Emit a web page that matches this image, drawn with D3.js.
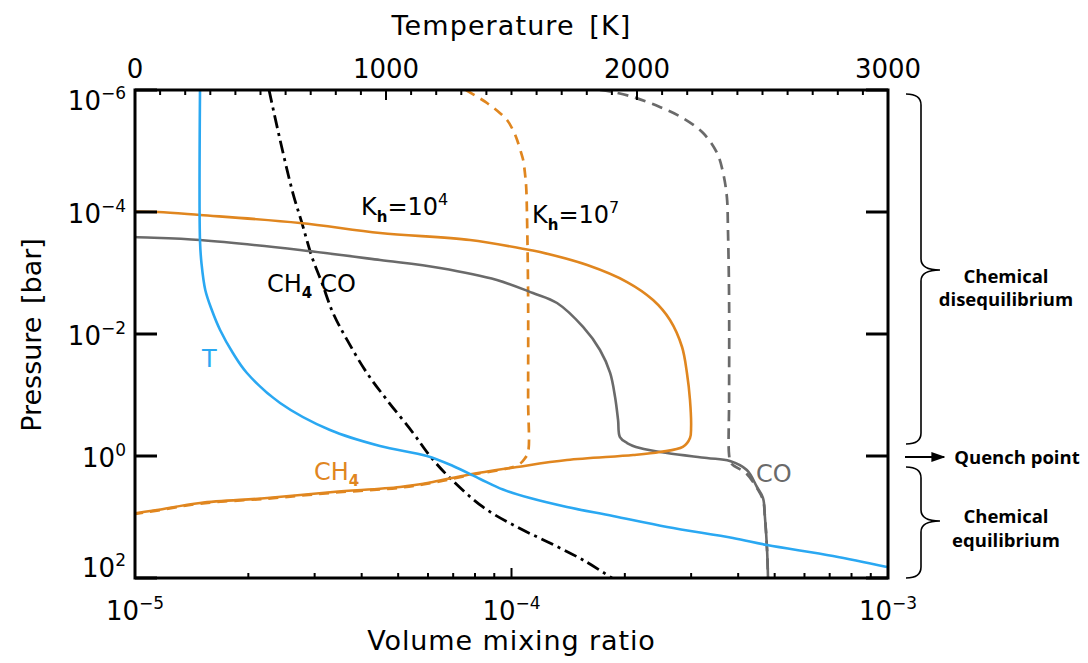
<!DOCTYPE html>
<html>
<head>
<meta charset="utf-8">
<script src="https://cdn.jsdelivr.net/npm/d3@7"></script>
<style>
  html, body { margin: 0; padding: 0; background: #fff; }
  svg { display: block; }
  .num { font-family: "DejaVu Sans", sans-serif; fill: #000; }
  .note { font-family: "Open Sans", "Liberation Sans", sans-serif; font-weight: 700; fill: #000; }
</style>
</head>
<body>
<div id="chart"></div>
<script>
// ---- Temperature profile (top axis, K) ----
const tempPressure = [1e-6, 3.0e-4, 7.0e-4, 1.9e-3, 4.05e-3, 8.6e-3, 2.05e-2, 4.36e-2, 0.135, 0.375, 0.686, 1.0, 1.459, 2.38, 3.55, 4.89, 6.85, 9.64, 14.6, 22.1, 28.8, 43.6, 66.1];
const tempKelvin   = [259, 259, 265, 280, 306, 339, 390, 446, 578, 777, 976, 1163, 1267, 1375, 1466, 1574, 1721, 1904, 2120, 2382, 2518, 2781, 2996];

// ---- CH4 = CO equal-abundance boundary (top axis, K) ----
const boundaryPressure = [1e-6, 6.6e-6, 4.89e-5, 1.51e-4, 5.47e-4, 1.46e-3, 4.53e-3, 1.25e-2, 4.36e-2, 0.121, 0.420, 1.0, 2.30, 6.85, 14.6, 26.7, 50.7, 100];
const boundaryKelvin   = [534, 578, 629, 665, 705, 745, 789, 845, 924, 1004, 1108, 1175, 1255, 1386, 1522, 1653, 1785, 1900];

// ---- CH4, Kh = 1e4 (solid) ----
const ch4LowKzzPressure = [0.98e-4, 1e-4, 1.119e-4, 1.514e-4, 2.208e-4, 2.877e-4, 4.198e-4, 4.529e-4, 7.396e-4, 1.406e-3, 2.773e-3, 5.888e-3, 1.633e-2, 4.355e-2, 0.1208, 0.3350, 0.5070, 0.7112, 0.8590, 0.9638, 1.164, 1.514, 2.046, 2.667, 3.221, 3.890, 4.887, 5.888, 7.674, 8.590, 9.0];
const ch4LowKzzVmr      = [9.5e-6, 1.151e-5, 1.489e-5, 2.742e-5, 4.477e-5, 7.762e-5, 1.119e-4, 1.191e-4, 1.589e-4, 2.028e-4, 2.377e-4, 2.636e-4, 2.838e-4, 2.924e-4, 2.979e-4, 2.999e-4, 2.979e-4, 2.851e-4, 2.477e-4, 2.104e-4, 1.403e-4, 1.035e-4, 7.621e-5, 6.180e-5, 5.058e-5, 3.357e-5, 2.244e-5, 1.489e-5, 1.143e-5, 1.012e-5, 9.5e-6];

// ---- CH4, Kh = 1e7 (dashed) ----
const ch4HighKzzPressure = [1e-6, 1.633e-6, 2.382e-6, 3.105e-6, 4.529e-6, 6.607e-6, 1.038e-5, 1.406e-5, 2.472e-5, 3.890e-5, 1.352e-4, 2.773e-3, 0.1208, 0.859, 1.079, 1.406, 2.10, 2.74, 3.31, 4.0, 5.0, 6.03, 7.86, 8.8, 9.2];
const ch4HighKzzVmr      = [7.568e-5, 8.610e-5, 9.31e-5, 9.73e-5, 1.009e-4, 1.035e-4, 1.059e-4, 1.074e-4, 1.087e-4, 1.094e-4, 1.1e-4, 1.107e-4, 1.107e-4, 1.107e-4, 1.087e-4, 1.040e-4, 7.621e-5, 6.18e-5, 5.058e-5, 3.357e-5, 2.244e-5, 1.489e-5, 1.143e-5, 1.012e-5, 9.5e-6];

// ---- CO, Kh = 1e4 (solid) ----
const coLowKzzPressure = [2.5e-4, 2.570e-4, 2.877e-4, 4.198e-4, 6.124e-4, 8.279e-4, 1.303e-3, 2.128e-3, 3.105e-3, 7.674e-3, 1.828e-2, 4.355e-2, 0.1079, 0.2570, 0.4887, 0.6124, 0.7396, 0.8933, 1.079, 1.208, 1.698, 3.221, 4.887, 10.0, 34.75, 100];
const coLowKzzVmr      = [9.4e-6, 1.0e-5, 1.489e-5, 2.742e-5, 4.477e-5, 6.457e-5, 9.146e-5, 1.140e-4, 1.321e-4, 1.549e-4, 1.718e-4, 1.828e-4, 1.884e-4, 1.919e-4, 1.941e-4, 2.028e-4, 2.193e-4, 2.588e-4, 3.304e-4, 3.802e-4, 4.217e-4, 4.487e-4, 4.656e-4, 4.711e-4, 4.773e-4, 4.801e-4];

// ---- CO, Kh = 1e7 (dashed) ----
const coHighKzzPressure = [1e-6, 1.079e-6, 1.303e-6, 1.901e-6, 2.877e-6, 5.070e-6, 1.079e-5, 2.296e-5, 5.678e-5, 1.972e-4, 2.773e-3, 0.1208, 0.9638, 1.303, 1.972, 3.350, 5.26, 10, 34.75, 100];
const coHighKzzVmr      = [1.718e-4, 1.862e-4, 2.104e-4, 2.477e-4, 2.851e-4, 3.228e-4, 3.516e-4, 3.648e-4, 3.733e-4, 3.758e-4, 3.784e-4, 3.784e-4, 3.784e-4, 3.828e-4, 4.217e-4, 4.487e-4, 4.656e-4, 4.711e-4, 4.773e-4, 4.801e-4];

// ---- Axis ticks ----
const vmrMajorTicks = [1e-5, 1e-4, 1e-3];
const vmrMajorExp = ["\u22125", "\u22124", "\u22123"];
const pressureTicks = [1e-6, 1e-4, 1e-2, 1, 1e2];
const pressureExp = ["\u22126", "\u22124", "\u22122", "0", "2"];
const tempMajorTicks = [0, 1000, 2000, 3000];

// ---- Layout ----
const W = 1088, H = 663;
const L = 135, R = 888, T = 90, B = 578;
const ORANGE = "#E0861F", BLUE = "#2AA8F2", GREY = "#6A6A6A";

const svg = d3.select("#chart").append("svg").attr("width", W).attr("height", H);

const x = d3.scaleLog().domain([1e-5, 1e-3]).range([L, R]);
const t = d3.scaleLinear().domain([0, 3000]).range([L, R]);
const y = d3.scaleLog().domain([1e-6, 1e2]).range([T, B]);

svg.append("clipPath").attr("id", "plotClip")
  .append("rect").attr("x", L).attr("y", T).attr("width", R - L).attr("height", B - T);

const plot = svg.append("g").attr("clip-path", "url(#plotClip)");

function drawSeries(xs, ps, scaleX, color, dash, width) {
  const pts = ps.map((p, i) => [scaleX(xs[i]), y(p)]);
  plot.append("path")
    .attr("d", d3.line().curve(d3.curveCatmullRom.alpha(0.5))(pts))
    .attr("fill", "none")
    .attr("stroke", color)
    .attr("stroke-width", width)
    .attr("stroke-dasharray", dash)
    .attr("stroke-linejoin", "round");
}

drawSeries(boundaryKelvin, boundaryPressure, t, "#000", "13,5,3,5", 2.8);
drawSeries(ch4HighKzzVmr, ch4HighKzzPressure, x, ORANGE, "10,7", 2.7);
drawSeries(coHighKzzVmr, coHighKzzPressure, x, GREY, "11,7", 2.7);
drawSeries(coLowKzzVmr, coLowKzzPressure, x, GREY, null, 2.6);
drawSeries(ch4LowKzzVmr, ch4LowKzzPressure, x, ORANGE, null, 2.6);
drawSeries(tempKelvin, tempPressure, t, BLUE, null, 2.6);

// ---- Ticks ----
const ticks = svg.append("g").attr("stroke", "#000").attr("stroke-width", 2);

// bottom: log minor ticks, major at decades
x.ticks().forEach(v => {
  const isMajor = vmrMajorTicks.some(m => Math.abs(m - v) / m < 1e-9);
  const len = isMajor ? 10 : 5;
  ticks.append("line").attr("x1", x(v)).attr("x2", x(v)).attr("y1", B).attr("y2", B - len);
});

// top: temperature ticks every 100 K
d3.range(0, 3001, 100).forEach(k => {
  const len = k % 1000 === 0 ? 10 : 5;
  ticks.append("line").attr("x1", t(k)).attr("x2", t(k)).attr("y1", T).attr("y2", T + len);
});

// left and right: pressure decade ticks
pressureTicks.forEach(p => {
  ticks.append("line").attr("x1", L).attr("x2", L + 22).attr("y1", y(p)).attr("y2", y(p)).attr("stroke-width", 3);
  ticks.append("line").attr("x1", R).attr("x2", R - 22).attr("y1", y(p)).attr("y2", y(p)).attr("stroke-width", 3);
});

// frame
svg.append("rect").attr("x", L).attr("y", T).attr("width", R - L).attr("height", B - T)
  .attr("fill", "none").attr("stroke", "#000").attr("stroke-width", 3);

// ---- Tick labels ----
const labels = svg.append("g").attr("class", "num");

tempMajorTicks.forEach(k => {
  labels.append("text").attr("x", t(k)).attr("y", 78).attr("text-anchor", "middle")
    .attr("font-size", 26).text(k);
});

function powerLabel(sel, base, exp) {
  sel.append("tspan").text(base);
  sel.append("tspan").attr("dy", -11).attr("font-size", 17).text(exp);
}

vmrMajorTicks.forEach((v, i) => {
  const txt = labels.append("text").attr("x", x(v)).attr("y", 620)
    .attr("text-anchor", "middle").attr("font-size", 26);
  powerLabel(txt, "10", vmrMajorExp[i]);
});

pressureTicks.forEach((p, i) => {
  const base = Math.min(Math.max(y(p) + 11, 110), 577);
  const txt = labels.append("text").attr("x", 126).attr("y", base)
    .attr("text-anchor", "end").attr("font-size", 26);
  powerLabel(txt, "10", pressureExp[i]);
});

// ---- Axis titles ----
labels.append("text").attr("x", (L + R) / 2).attr("y", 35).attr("text-anchor", "middle")
  .attr("font-size", 27).attr("letter-spacing", 1.1).attr("word-spacing", 5).text("Temperature [K]");
labels.append("text").attr("x", (L + R) / 2).attr("y", 650).attr("text-anchor", "middle")
  .attr("font-size", 27).attr("letter-spacing", 0.9).text("Volume mixing ratio");
labels.append("text").attr("transform", "translate(41,335) rotate(-90)").attr("text-anchor", "middle")
  .attr("font-size", 27).attr("word-spacing", 4).text("Pressure [bar]");

// ---- In-plot annotations ----
function kzzLabel(px, py, exp) {
  const txt = labels.append("text").attr("x", px).attr("y", py).attr("font-size", 24);
  txt.append("tspan").text("K");
  txt.append("tspan").attr("dy", 7).attr("font-size", 15).attr("font-weight", 700).text("h");
  txt.append("tspan").attr("dy", -7).text("=10");
  txt.append("tspan").attr("dy", -10).attr("font-size", 16).text(exp);
}
kzzLabel(361, 215, "4");
kzzLabel(532, 223, "7");

const mol = labels.append("text").attr("x", 267).attr("y", 292).attr("font-size", 24);
mol.append("tspan").text("CH");
mol.append("tspan").attr("dy", 6).attr("font-size", 15).attr("font-weight", 700).text("4");
mol.append("tspan").attr("dy", -6).attr("dx", 8).text("CO");

labels.append("text").attr("x", 202).attr("y", 367).attr("font-size", 24).attr("fill", BLUE).text("T");

const ch4 = labels.append("text").attr("x", 314).attr("y", 480).attr("font-size", 24).attr("fill", ORANGE);
ch4.append("tspan").text("CH");
ch4.append("tspan").attr("dy", 6).attr("font-size", 15).attr("font-weight", 700).text("4");

labels.append("text").attr("x", 756).attr("y", 482).attr("font-size", 24).attr("fill", GREY).text("CO");

// ---- Regime braces and quench marker ----
function brace(top, bottom, tip) {
  const xe = 906, xs = 921, xt = 940, r = 11;
  const d = `M${xe},${top} Q${xs},${top} ${xs},${top + r} L${xs},${tip - r} Q${xs},${tip} ${xt},${tip}` +
            ` Q${xs},${tip} ${xs},${tip + r} L${xs},${bottom - r} Q${xs},${bottom} ${xe},${bottom}`;
  svg.append("path").attr("d", d).attr("fill", "none").attr("stroke", "#000").attr("stroke-width", 1.6);
}
brace(94, 444, 270);
brace(467, 578, 521);

svg.append("defs").append("marker").attr("id", "arrowHead")
  .attr("viewBox", "0 0 10 10").attr("refX", 9).attr("refY", 5)
  .attr("markerWidth", 7).attr("markerHeight", 7).attr("orient", "auto")
  .append("path").attr("d", "M0,1.5 L10,5 L0,8.5 Z").attr("fill", "#000");
svg.append("line").attr("x1", 905).attr("x2", 944).attr("y1", 457).attr("y2", 457)
  .attr("stroke", "#000").attr("stroke-width", 2).attr("marker-end", "url(#arrowHead)");

const notes = svg.append("g").attr("class", "note").attr("font-size", 18.5).attr("text-anchor", "middle");
notes.append("text").attr("x", 1006).attr("y", 283).text("Chemical");
notes.append("text").attr("x", 1006).attr("y", 306).text("disequilibrium");
notes.append("text").attr("x", 1017).attr("y", 464).text("Quench point");
notes.append("text").attr("x", 1006).attr("y", 523).text("Chemical");
notes.append("text").attr("x", 1006).attr("y", 547).text("equilibrium");
</script>
</body>
</html>
